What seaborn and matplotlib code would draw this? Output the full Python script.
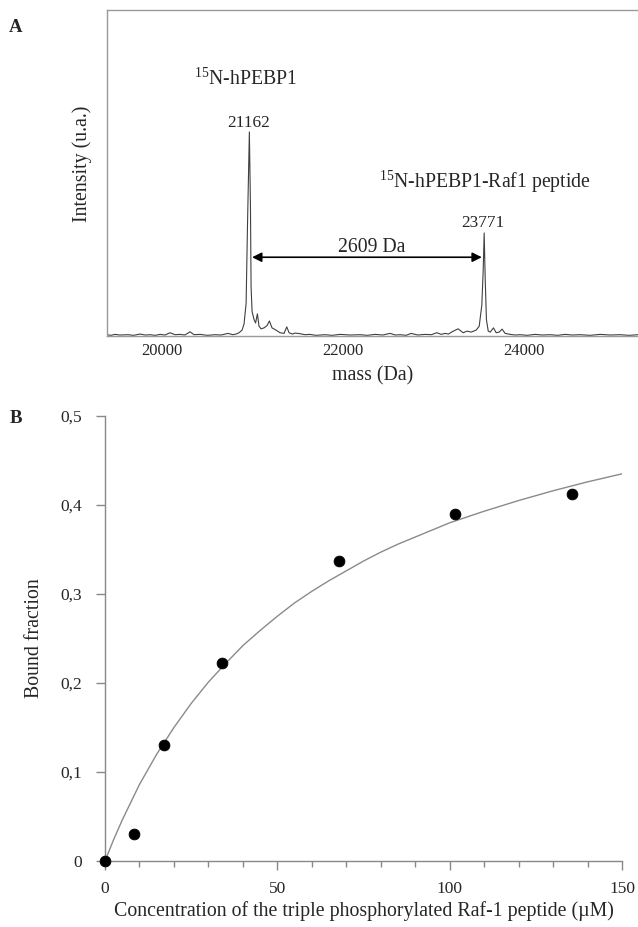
import numpy as np
import pandas as pd
import matplotlib.pyplot as plt
import seaborn as sns

# spectrum (panel A)
mass = [19387, 19430, 19476, 19530, 19620, 19680, 19753, 19810, 19864, 19920, 19975, 20030,
        20085, 20140, 20196, 20250, 20307, 20350, 20418, 20500, 20584, 20650, 20728, 20780,
        20817, 20850, 20883, 20905, 20928, 20944, 20964, 20976, 20983, 20994, 21016, 21033,
        21053, 21071, 21094, 21127, 21160, 21186, 21215, 21260, 21304, 21348, 21378, 21404,
        21440, 21470, 21526, 21580, 21636, 21700, 21803, 21880, 21969, 22080, 22191, 22270,
        22357, 22440, 22523, 22580, 22634, 22700, 22756, 22830, 22911, 22980, 23040, 23090,
        23132, 23170, 23210, 23276, 23332, 23376, 23421, 23476, 23510, 23539, 23554, 23565,
        23576, 23590, 23610, 23632, 23668, 23698, 23731, 23764, 23797, 23853, 23910, 23963,
        24040, 24129, 24210, 24295, 24380, 24461, 24540, 24628, 24740, 24849, 24960, 25070,
        25170, 25269]
intensity = [0.004, 0.002, 0.005, 0.003, 0.004, 0.002, 0.006, 0.003, 0.004, 0.002, 0.005, 0.003,
             0.010, 0.004, 0.005, 0.003, 0.013, 0.004, 0.005, 0.002, 0.004, 0.003, 0.008, 0.004,
             0.006, 0.010, 0.018, 0.037, 0.100, 0.350, 0.626, 0.400, 0.150, 0.075, 0.050, 0.040,
             0.068, 0.030, 0.022, 0.025, 0.032, 0.046, 0.025, 0.018, 0.010, 0.008, 0.028, 0.010,
             0.006, 0.009, 0.007, 0.004, 0.005, 0.002, 0.004, 0.002, 0.005, 0.003, 0.004, 0.002,
             0.005, 0.003, 0.008, 0.003, 0.004, 0.002, 0.008, 0.003, 0.005, 0.004, 0.010, 0.005,
             0.008, 0.006, 0.013, 0.022, 0.010, 0.015, 0.012, 0.018, 0.030, 0.095, 0.200, 0.316,
             0.180, 0.050, 0.015, 0.012, 0.025, 0.010, 0.012, 0.021, 0.008, 0.005, 0.003, 0.004,
             0.002, 0.005, 0.003, 0.004, 0.002, 0.005, 0.003, 0.004, 0.002, 0.005, 0.003, 0.004,
             0.002, 0.004]

# binding data (panel B)
conc = [0, 8.5, 17, 34, 68, 101.5, 135.5]
bound = [0, 0.03, 0.13, 0.223, 0.337, 0.39, 0.412]

# fitted curve
fit_x = [0, 2.5, 5, 7.5, 10, 12.5, 15, 17.5, 20, 25, 30, 35, 40, 45, 50, 55, 60, 65, 70, 75,
         80, 85, 90, 95, 100, 110, 120, 130, 140, 150]
fit_y = [0, 0.024, 0.046, 0.066, 0.086, 0.103, 0.120, 0.135, 0.150, 0.177, 0.201, 0.222,
         0.242, 0.259, 0.275, 0.290, 0.303, 0.315, 0.326, 0.337, 0.347, 0.356, 0.364, 0.372,
         0.380, 0.393, 0.405, 0.416, 0.426, 0.435]

sns.set_style('white')
plt.rcParams['font.family'] = ['Liberation Serif', 'DejaVu Serif']
plt.rcParams['mathtext.fontset'] = 'custom'
plt.rcParams['mathtext.rm'] = 'Liberation Serif'

fig = plt.figure(figsize=(6.38, 9.27), dpi=100)
W, H = 638, 927

def box(l, t, r, b):
    return [l / W, 1 - b / H, (r - l) / W, (b - t) / H]

axA = fig.add_axes(box(107, 10, 638, 336))
axB = fig.add_axes(box(105, 416, 622, 861))

# ---- panel A
spec = pd.DataFrame({'mass': mass, 'intensity': intensity})
sns.lineplot(data=spec, x='mass', y='intensity', ax=axA, color='#404040', lw=0.8)
axA.set_xlim(19387, 25269)
axA.set_ylim(0, 1)
axA.set_xticks([20000, 22000, 24000])
axA.set_xticklabels(['20000', '22000', '24000'], fontsize=12)
axA.set_yticks([])
axA.tick_params(axis='x', length=0, pad=5)
for s in ['left', 'top', 'bottom']:
    axA.spines[s].set_color('#999999')
    axA.spines[s].set_linewidth(1)
axA.spines['right'].set_visible(False)
axA.set_xlabel('mass (Da)', fontsize=14.3, labelpad=5)
axA.set_ylabel('Intensity (u.a.)', fontsize=14.3)
axA.yaxis.set_label_coords(-15 / 531, (336 - 164) / 326)

axA.text(20916, 0.788, r'$\mathregular{^{15}}$N-hPEBP1', ha='center', va='center', fontsize=14.2)
axA.text(20951, 0.653, '21162', ha='center', va='center', fontsize=12.4)
axA.text(23570, 0.472, r'$\mathregular{^{15}}$N-hPEBP1-Raf1 peptide', ha='center', va='center', fontsize=14.2)
axA.text(23554, 0.346, '23771', ha='center', va='center', fontsize=12.4)
axA.annotate('', xy=(20994, 0.2416), xytext=(23539, 0.2416),
             arrowprops=dict(arrowstyle='<|-|>', color='black', lw=1.2, mutation_scale=14,
                             shrinkA=0, shrinkB=0))
axA.text(22317, 0.271, '2609 Da', ha='center', va='center', fontsize=14.2)

# ---- panel B
sns.lineplot(x=fit_x, y=fit_y, ax=axB, color='#8a8a8a', lw=1)
sns.scatterplot(x=conc, y=bound, ax=axB, color='black', s=60, edgecolor='black', zorder=3,
                clip_on=False)
axB.set_xlim(0, 150)
axB.set_ylim(0, 0.5)
axB.set_xticks([0, 50, 100, 150])
axB.set_xticks(np.arange(10, 150, 10), minor=True)
axB.set_yticks([0, 0.1, 0.2, 0.3, 0.4, 0.5])
axB.set_yticklabels(['0', '0,1', '0,2', '0,3', '0,4', '0,5'], fontsize=12.5)
axB.set_xticklabels(['0', '50', '100', '150'], fontsize=12.5)
axB.tick_params(axis='y', which='major', length=6.5, width=1, color='#888888', pad=10, left=True)
axB.tick_params(axis='x', which='major', length=6.5, width=1, color='#888888', pad=8, bottom=True)
axB.tick_params(axis='x', which='minor', length=4.3, width=1, color='#888888', bottom=True)
for s in ['left', 'bottom']:
    axB.spines[s].set_color('#888888')
    axB.spines[s].set_linewidth(1)
axB.spines['top'].set_visible(False)
axB.spines['right'].set_visible(False)
axB.set_xlabel('Concentration of the triple phosphorylated Raf-1 peptide (\u00b5M)',
               fontsize=14.3, labelpad=3)
axB.set_ylabel('Bound fraction', fontsize=14.3, labelpad=12)

fig.text(16 / W, 1 - 27 / H, 'A', fontsize=13.5, fontweight='bold', ha='center', va='center')
fig.text(16 / W, 1 - 419 / H, 'B', fontsize=13.5, fontweight='bold', ha='center', va='center')

fig.savefig('out.png', dpi=100)
